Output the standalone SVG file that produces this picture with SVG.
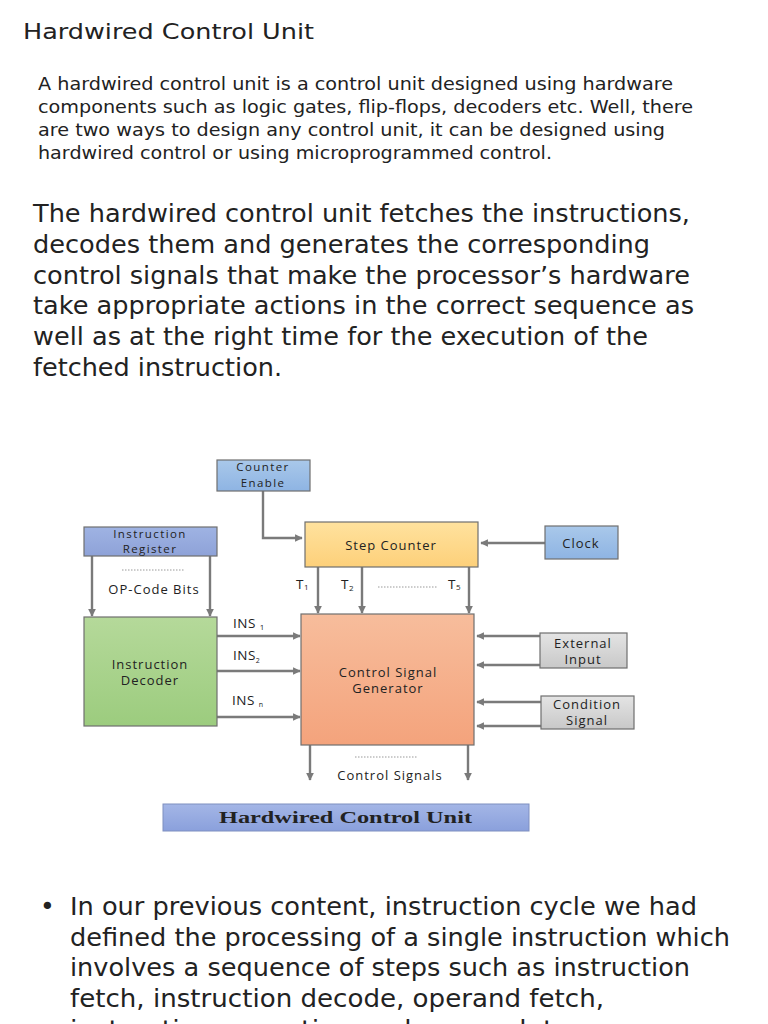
<svg xmlns="http://www.w3.org/2000/svg" width="768" height="1024" viewBox="0 0 768 1024">
<defs>
<linearGradient id="gBlue" x1="0" y1="0" x2="0" y2="1"><stop offset="0" stop-color="#a9c8ea"/><stop offset="1" stop-color="#8eb4e3"/></linearGradient>
<linearGradient id="gIR" x1="0" y1="0" x2="0" y2="1"><stop offset="0" stop-color="#9fb3e3"/><stop offset="1" stop-color="#8ea2d8"/></linearGradient>
<linearGradient id="gYel" x1="0" y1="0" x2="0" y2="1"><stop offset="0" stop-color="#ffe29e"/><stop offset="1" stop-color="#fdd07a"/></linearGradient>
<linearGradient id="gGreen" x1="0" y1="0" x2="0" y2="1"><stop offset="0" stop-color="#b5d99a"/><stop offset="1" stop-color="#9ccc7e"/></linearGradient>
<linearGradient id="gSal" x1="0" y1="0" x2="0" y2="1"><stop offset="0" stop-color="#f7bd9c"/><stop offset="1" stop-color="#f4a37c"/></linearGradient>
<linearGradient id="gGray" x1="0" y1="0" x2="0" y2="1"><stop offset="0" stop-color="#e4e4e4"/><stop offset="1" stop-color="#c8c8c8"/></linearGradient>
<linearGradient id="gBan" x1="0" y1="0" x2="0" y2="1"><stop offset="0" stop-color="#a4b6e6"/><stop offset="1" stop-color="#8aa0dc"/></linearGradient>
<marker id="ah" viewBox="0 0 10 10" refX="9" refY="5" markerWidth="3.2" markerHeight="3.2" orient="auto"><path d="M0,0 L10,5 L0,10 z" fill="#7a7a7a"/></marker>
</defs>
<style>
.body{font-family:"DejaVu Sans","Noto Sans",sans-serif;fill:#222;}
.dg{font-family:"Open Sans",Lato,"Liberation Sans",sans-serif;fill:#222;font-size:13px;letter-spacing:1px;text-anchor:middle;}
.dgs{font-family:"Open Sans",Lato,"Liberation Sans",sans-serif;fill:#222;font-size:11.5px;letter-spacing:1.4px;text-anchor:middle;}
.lbl{font-family:"Open Sans",Lato,"Liberation Sans",sans-serif;fill:#222;font-size:13.5px;letter-spacing:0.5px;}
.box{stroke:#6f6f6f;stroke-width:1.2;}
.cn{stroke:#7a7a7a;stroke-width:2.4;fill:none;marker-end:url(#ah);}
.dot{stroke:#999;stroke-width:1;stroke-dasharray:1.5 1.5;fill:none;}
</style>
<rect width="768" height="1024" fill="#ffffff"/>

<text class="body" x="23" y="39" font-size="22" textLength="291" lengthAdjust="spacingAndGlyphs">Hardwired Control Unit</text>

<g class="body" font-size="17">
<text x="38" y="90" textLength="635" lengthAdjust="spacingAndGlyphs">A hardwired control unit is a control unit designed using hardware</text>
<text x="38" y="113" textLength="655" lengthAdjust="spacingAndGlyphs">components such as logic gates, flip-flops, decoders etc. Well, there</text>
<text x="38" y="136" textLength="627" lengthAdjust="spacingAndGlyphs">are two ways to design any control unit, it can be designed using</text>
<text x="38" y="159" textLength="514" lengthAdjust="spacingAndGlyphs">hardwired control or using microprogrammed control.</text>
</g>

<g class="body" font-size="25">
<text x="33" y="222" textLength="657" lengthAdjust="spacingAndGlyphs">The hardwired control unit fetches the instructions,</text>
<text x="33" y="253" textLength="617" lengthAdjust="spacingAndGlyphs">decodes them and generates the corresponding</text>
<text x="33" y="284" textLength="657" lengthAdjust="spacingAndGlyphs">control signals that make the processor’s hardware</text>
<text x="33" y="314" textLength="661" lengthAdjust="spacingAndGlyphs">take appropriate actions in the correct sequence as</text>
<text x="33" y="345" textLength="615" lengthAdjust="spacingAndGlyphs">well as at the right time for the execution of the</text>
<text x="33" y="376" textLength="249" lengthAdjust="spacingAndGlyphs">fetched instruction.</text>
</g>

<g id="connectors">
<polyline class="cn" points="263,491 263,538 302,538"/>
<line class="cn" x1="545" y1="543" x2="481" y2="543"/>
<line class="cn" x1="92" y1="556" x2="92" y2="616"/>
<line class="cn" x1="210" y1="556" x2="210" y2="616"/>
<line class="cn" x1="318" y1="567" x2="318" y2="613"/>
<line class="cn" x1="362" y1="567" x2="362" y2="613"/>
<line class="cn" x1="469" y1="567" x2="469" y2="613"/>
<line class="cn" x1="217" y1="636" x2="300" y2="636"/>
<line class="cn" x1="217" y1="671" x2="300" y2="671"/>
<line class="cn" x1="217" y1="717" x2="300" y2="717"/>
<line class="cn" x1="540" y1="636" x2="477" y2="636"/>
<line class="cn" x1="540" y1="665" x2="477" y2="665"/>
<line class="cn" x1="541" y1="702" x2="477" y2="702"/>
<line class="cn" x1="541" y1="726" x2="477" y2="726"/>
<line class="cn" x1="310" y1="745" x2="310" y2="780"/>
<line class="cn" x1="468" y1="745" x2="468" y2="780"/>
<line class="dot" x1="122" y1="570" x2="184" y2="570"/>
<line class="dot" x1="378" y1="587" x2="438" y2="587"/>
<line class="dot" x1="355" y1="757" x2="418" y2="757"/>
</g>

<g id="counter-enable">
<rect class="box" x="217" y="460" width="93" height="31" fill="url(#gBlue)" stroke="#8aa"/>
<text class="dgs" x="263" y="471">Counter</text>
<text class="dgs" x="263" y="487">Enable</text>
</g>
<g id="step-counter">
<rect class="box" x="305" y="522" width="173" height="45" fill="url(#gYel)"/>
<text class="dg" x="391" y="550">Step Counter</text>
</g>
<g id="clock">
<rect class="box" x="545" y="526" width="73" height="33" fill="url(#gBlue)"/>
<text class="dg" x="581" y="548">Clock</text>
</g>
<g id="instruction-register">
<rect class="box" x="84" y="527" width="133" height="29" fill="url(#gIR)"/>
<text class="dgs" x="150" y="538">Instruction</text>
<text class="dgs" x="150" y="553">Register</text>
</g>
<g id="opcode-label">
<text class="dg" x="154" y="594">OP-Code Bits</text>
</g>
<g id="instruction-decoder">
<rect class="box" x="84" y="617" width="133" height="109" fill="url(#gGreen)"/>
<text class="dg" x="150" y="669">Instruction</text>
<text class="dg" x="150" y="685">Decoder</text>
</g>
<g id="ins-labels">
<text class="lbl" x="233" y="628">INS <tspan font-size="8" dy="2">1</tspan></text>
<text class="lbl" x="233" y="660">INS<tspan font-size="7" dy="3">2</tspan></text>
<text class="lbl" x="232" y="705">INS <tspan font-size="7" dy="2">n</tspan></text>
</g>
<g id="t-labels">
<text class="lbl" x="296" y="589">T<tspan font-size="8" dy="1">1</tspan></text>
<text class="lbl" x="341" y="589">T<tspan font-size="8" dy="2">2</tspan></text>
<text class="lbl" x="448" y="589">T<tspan font-size="8" dy="1">5</tspan></text>
</g>
<g id="control-signal-generator">
<rect class="box" x="301" y="614" width="173" height="131" fill="url(#gSal)"/>
<text class="dg" x="388" y="677">Control Signal</text>
<text class="dg" x="388" y="693">Generator</text>
</g>
<g id="external-input">
<rect class="box" x="540" y="633" width="87" height="35" fill="url(#gGray)"/>
<text class="dg" x="583" y="648">External</text>
<text class="dg" x="583" y="664">Input</text>
</g>
<g id="condition-signal">
<rect class="box" x="541" y="696" width="93" height="33" fill="url(#gGray)"/>
<text class="dg" x="587" y="709">Condition</text>
<text class="dg" x="587" y="725">Signal</text>
</g>
<g id="control-signals-label">
<text class="dg" x="390" y="780">Control Signals</text>
</g>
<g id="banner">
<rect x="163" y="804" width="366" height="27" fill="url(#gBan)" stroke="#7f8fc0" stroke-width="1"/>
<text x="219" y="823" font-family="'Liberation Serif',serif" font-weight="bold" font-size="17" fill="#222" textLength="253" lengthAdjust="spacingAndGlyphs">Hardwired Control Unit</text>
</g>

<g class="body" font-size="25">
<text x="40" y="915">•</text>
<text x="70" y="915" textLength="627" lengthAdjust="spacingAndGlyphs">In our previous content, instruction cycle we had</text>
<text x="70" y="946" textLength="660" lengthAdjust="spacingAndGlyphs">defined the processing of a single instruction which</text>
<text x="70" y="976" textLength="620" lengthAdjust="spacingAndGlyphs">involves a sequence of steps such as instruction</text>
<text x="70" y="1007" textLength="534" lengthAdjust="spacingAndGlyphs">fetch, instruction decode, operand fetch,</text>
<text x="70" y="1038" textLength="500" lengthAdjust="spacingAndGlyphs">instruction execution and so on. data</text>
</g>
</svg>
